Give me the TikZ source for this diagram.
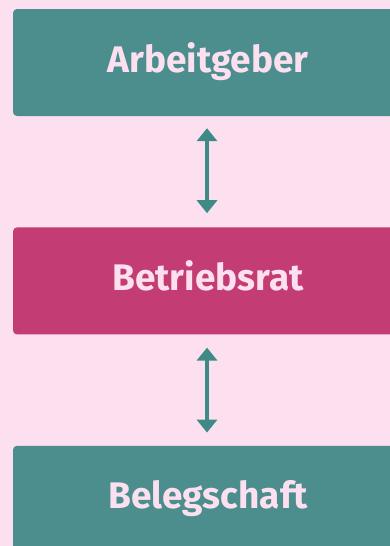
\documentclass[tikz,border=0pt]{standalone}
\usepackage{fontspec}
\setmainfont{Fira Sans}
\usetikzlibrary{positioning,arrows.meta}

\definecolor{bgpink}{HTML}{FCE0EF}
\definecolor{tealbox}{HTML}{4B8E8D}
\definecolor{rosebox}{HTML}{C33C73}
\definecolor{arrowteal}{HTML}{3F8A86}

\tikzset{
  orgbox/.style={rectangle, rounded corners=4pt, minimum width=390pt,
    minimum height=107pt, inner sep=0pt, text=bgpink,
    text height=27pt, text depth=8pt,
    font=\fontsize{37}{40}\selectfont\bfseries},
  link/.style={arrowteal, line width=4pt,
    {Triangle[width=20pt,length=13pt]}-{Triangle[width=20pt,length=13pt]}},
}

\begin{document}
\begin{tikzpicture}
\fill[bgpink] (0,0) rectangle (390pt,-546pt);
\useasboundingbox (0,0) rectangle (390pt,-546pt);
\clip (0,0) rectangle (390pt,-546pt);

% the three boxes
\node[orgbox, fill=tealbox] (geber) at (208pt,-62.5pt) {Arbeitgeber};
\node[orgbox, fill=rosebox, below=111pt of geber] (rat) {Betriebsrat};
\node[orgbox, fill=tealbox, below=111pt of rat] (schaft) {Belegschaft};

% double arrows
\draw[link] ([xshift=-1pt,yshift=-12pt]geber.south) -- ([xshift=-1pt,yshift=14pt]rat.north);
\draw[link] ([xshift=-1pt,yshift=-13pt]rat.south) -- ([xshift=-1pt,yshift=13pt]schaft.north);
\end{tikzpicture}
\end{document}
